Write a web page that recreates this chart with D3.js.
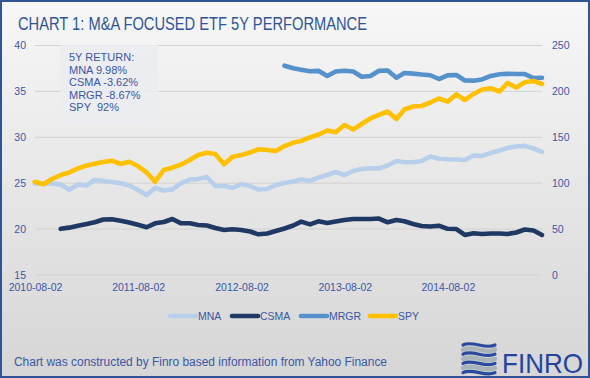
<!DOCTYPE html>
<html><head><meta charset="utf-8">
<script src="https://cdn.jsdelivr.net/npm/d3@7/dist/d3.min.js"></script>
<style>html,body{margin:0;padding:0;background:#fff;}svg{display:block;}</style>
</head><body>
<script>
const months = ["2010-08","2010-09","2010-10","2010-11","2010-12","2011-01","2011-02","2011-03","2011-04","2011-05","2011-06","2011-07",
"2011-08","2011-09","2011-10","2011-11","2011-12","2012-01","2012-02","2012-03","2012-04","2012-05","2012-06","2012-07",
"2012-08","2012-09","2012-10","2012-11","2012-12","2013-01","2013-02","2013-03","2013-04","2013-05","2013-06","2013-07",
"2013-08","2013-09","2013-10","2013-11","2013-12","2014-01","2014-02","2014-03","2014-04","2014-05","2014-06","2014-07",
"2014-08","2014-09","2014-10","2014-11","2014-12","2015-01","2015-02","2015-03","2015-04","2015-05","2015-06","2015-07"];
const tickLabels = ["2010-08-02","2011-08-02","2012-08-02","2013-08-02","2014-08-02"];
const leftTicks = [15,20,25,30,35,40];
const rightTicks = [0,50,100,150,200,250];
const mna = [24.99,24.97,24.97,24.86,24.28,24.86,24.75,25.35,25.24,25.13,24.99,24.75,24.26,23.71,24.48,24.20,24.31,25.02,25.40,25.46,
25.68,24.69,24.69,24.48,24.91,24.69,24.31,24.37,24.80,25.02,25.18,25.40,25.24,25.62,25.89,26.22,25.89,26.33,26.55,26.62,
26.62,26.93,27.42,27.28,27.28,27.42,27.91,27.67,27.61,27.58,27.53,28.02,27.98,28.29,28.56,28.83,29.00,29.07,28.78,28.40];
const csma = [null,null,null,20.03,20.16,20.36,20.56,20.74,21.05,21.07,20.91,20.72,20.47,20.20,20.63,20.77,21.10,20.63,20.63,20.45,
20.39,20.12,19.90,19.98,19.90,19.74,19.43,19.52,19.79,20.07,20.39,20.81,20.52,20.85,20.66,20.83,20.99,21.10,21.10,21.10,
21.15,20.74,20.99,20.85,20.56,20.34,20.28,20.37,20.03,20.01,19.36,19.54,19.47,19.52,19.52,19.47,19.63,19.96,19.85,19.36];
const mrgr = [null,null,null,null,null,null,null,null,null,null,null,null,null,null,null,null,null,null,null,null,
null,null,null,null,null,null,null,null,null,37.80,37.52,37.36,37.19,37.24,36.68,37.17,37.25,37.17,36.59,36.68,
37.24,37.28,36.49,37.00,36.94,36.84,36.76,36.35,36.75,36.79,36.19,36.17,36.30,36.68,36.87,36.92,36.90,36.89,36.46,36.48];
const spy = [101.6,98.8,104.6,108.9,111.7,116.2,119.3,121.1,123.1,124.5,120.9,123.4,118.7,111.7,101.6,114.4,116.9,120.4,125.3,130.7,
133.2,131.8,120.6,128.9,130.7,133.4,136.9,136.2,135.1,140.5,144.3,146.0,149.8,153.0,157.4,155.6,163.4,158.5,164.5,170.5,
174.3,178.1,169.9,180.3,183.6,184.1,187.9,192.3,188.8,196.8,190.6,197.2,202.1,203.4,199.9,209.1,204.2,209.9,211.3,208.1];
const seriesNames = ["MNA","CSMA","MRGR","SPY"];
const returnLines = ["5Y RETURN:","MNA 9.98%","CSMA -3.62%","MRGR -8.67%","SPY  92%"];
const titleText = "CHART 1: M&A FOCUSED ETF 5Y PERFORMANCE";
const footerText = "Chart was constructed by Finro based information from Yahoo Finance";

const W = 590, H = 378;
const FONT = "'Liberation Sans', Arial, sans-serif";
const TXT = "#3a57a3";
const colors = {MNA:"#b8cfeb", CSMA:"#1f3864", MRGR:"#5592cc", SPY:"#ffc000"};
const svg = d3.select("body").append("svg").attr("width", W).attr("height", H);
const defs = svg.append("defs");
const grad = defs.append("linearGradient").attr("id","bg").attr("x1",0).attr("y1",0).attr("x2",0).attr("y2",1);
grad.append("stop").attr("offset","0%").attr("stop-color","#f7f7f7");
grad.append("stop").attr("offset","100%").attr("stop-color","#d6d6d6");
svg.append("rect").attr("x",0).attr("y",0).attr("width",W).attr("height",H).attr("fill","url(#bg)");
svg.append("rect").attr("x",1).attr("y",1).attr("width",W-2).attr("height",H-2).attr("fill","none").attr("stroke","#2f5597").attr("stroke-width",2);

const parseM = d3.timeParse("%Y-%m"), parseD = d3.timeParse("%Y-%m-%d");
const dates = months.map(parseM);
const x = d3.scaleTime().domain([parseD(tickLabels[0]), dates[dates.length-1]]).range([35, 542]);
const yL = d3.scaleLinear().domain([15, 40]).range([275, 45.5]);
const yR = d3.scaleLinear().domain([0, 250]).range([275, 45.5]);

// gridlines
svg.append("g").selectAll("line").data(leftTicks).join("line")
  .attr("x1", x.range()[0]).attr("x2", x.range()[1])
  .attr("y1", d => yL(d)).attr("y2", d => yL(d))
  .attr("stroke", "#d2d2d2").attr("stroke-width", 1);

// axes
const axL = svg.append("g").attr("transform","translate(30,0)")
  .call(d3.axisLeft(yL).tickValues(leftTicks).tickSize(0).tickPadding(4));
const axR = svg.append("g").attr("transform","translate(548,0)")
  .call(d3.axisRight(yR).tickValues(rightTicks).tickSize(0).tickPadding(4));
const axX = svg.append("g").attr("transform","translate(0,281)")
  .call(d3.axisBottom(x).tickValues(tickLabels.map(parseD)).tickFormat(d3.timeFormat("%Y-%m-%d")).tickSize(0).tickPadding(3));
[axL, axR, axX].forEach(a => {
  a.select(".domain").remove();
  a.selectAll("text").attr("fill", TXT).style("font-family", FONT).style("font-size", "10.5px");
});

// annotation box
svg.append("rect").attr("x",60).attr("y",45).attr("width",98).attr("height",80).attr("fill","#ebecf1").attr("opacity",0.85);
svg.append("g").selectAll("text").data(returnLines).join("text")
  .attr("x", 69).attr("y", (d,i) => 61 + i*12.6)
  .attr("fill", TXT).style("font-family", FONT).style("font-size","11px").style("white-space","pre")
  .text(d => d);

// lines
const data = {MNA: mna, CSMA: csma, MRGR: mrgr, SPY: spy};
const scaleOf = {MNA: yL, CSMA: yL, MRGR: yL, SPY: yR};
seriesNames.forEach(name => {
  const ys = scaleOf[name];
  const line = d3.line().defined(d => d != null).x((d,i) => x(dates[i])).y(d => ys(d));
  svg.append("path").datum(data[name]).attr("d", line)
    .attr("fill","none").attr("stroke", colors[name]).attr("stroke-width", 4.6)
    .attr("stroke-linejoin","round").attr("stroke-linecap","round");
});

// title
svg.append("text").attr("x",18).attr("y",29.5).attr("fill","#2f5597")
  .style("font-family", FONT).style("font-size","17.5px")
  .attr("textLength",349).attr("lengthAdjust","spacingAndGlyphs").text(titleText);

// legend
const legX = [169, 231, 300, 369];
const lg = svg.append("g").selectAll("g").data(seriesNames).join("g")
  .attr("transform", (d,i) => `translate(${legX[i]},316)`);
lg.append("line").attr("x1",1).attr("x2",27).attr("y1",0).attr("y2",0)
  .attr("stroke", d => colors[d]).attr("stroke-width",4.6).attr("stroke-linecap","round");
lg.append("text").attr("x",29).attr("y",3.8).attr("fill",TXT)
  .style("font-family",FONT).style("font-size","10.5px").text(d => d);

// footer
svg.append("text").attr("x",14).attr("y",365.5).attr("fill",TXT)
  .style("font-family",FONT).style("font-size","12.5px")
  .attr("textLength",373).attr("lengthAdjust","spacingAndGlyphs").text(footerText);

// logo
const logo = svg.append("g");
for (let k = 0; k < 7; k++) {
  const y0 = 345 + k*4.6;
  logo.append("path")
    .attr("d", `M463,${y0} C472,${y0-5} 486,${y0+5} 495,${y0}`)
    .attr("fill","none")
    .attr("stroke", k % 2 === 0 ? "#2a4aa0" : "#a9b4b8")
    .attr("stroke-width", k % 2 === 0 ? 3.2 : 4.4)
    .attr("stroke-linecap","round");
}
svg.append("text").attr("x",502).attr("y",373).attr("fill","#24439c")
  .style("font-family",FONT).style("font-size","28px")
  .attr("textLength",81).attr("lengthAdjust","spacingAndGlyphs").text("FINRO");
</script>
</body></html>
